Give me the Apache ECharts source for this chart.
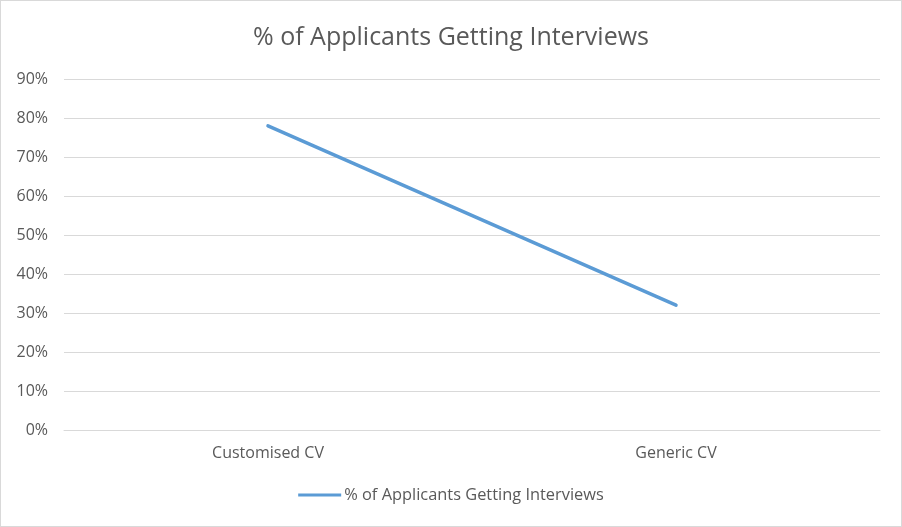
<!DOCTYPE html>
<html><head><meta charset="utf-8">
<script src="https://cdn.jsdelivr.net/npm/echarts@6/dist/echarts.min.js"></script>
<style>html,body{margin:0;padding:0;background:#fff}#c{width:902px;height:527px;box-sizing:border-box;border:1px solid #d9d9d9}</style>
</head><body><div id="c"></div>
<script>
var categories = ['Customised CV', 'Generic CV'];
var values = [0.78, 0.32];
var seriesName = '% of Applicants Getting Interviews';
var chart = echarts.init(document.getElementById('c'));
chart.setOption({
  animation: false,
  textStyle: {fontFamily: 'Open Sans'},
  title: {text: seriesName, left: 'center', top: 19,
    textStyle: {fontFamily: 'Open Sans', fontSize: 25, fontWeight: 'normal', color: '#595959'}},
  legend: {bottom: 18, left: 'center', itemWidth: 43, itemHeight: 3, itemGap: 4,
    icon: 'rect',
    textStyle: {fontFamily: 'Open Sans', fontSize: 16.4, color: '#595959', padding: [0,0,0,-2]},
    data: [{name: seriesName}]},
  grid: {left: 63, right: 21, top: 78, bottom: 96, containLabel: false},
  xAxis: {type: 'category', data: categories, boundaryGap: true,
    axisLine: {show: true, lineStyle: {color: '#d9d9d9'}},
    axisTick: {show: false},
    axisLabel: {fontFamily: 'Open Sans', fontSize: 16, color: '#595959', margin: 15}},
  yAxis: {type: 'value', min: 0, max: 0.9, interval: 0.1,
    axisLine: {show: false}, axisTick: {show: false},
    splitLine: {lineStyle: {color: '#d9d9d9'}},
    axisLabel: {fontFamily: 'Open Sans', fontSize: 16, color: '#595959', margin: 16,
      formatter: function(v){return Math.round(v*100)+'%';}}},
  series: [{name: seriesName, type: 'line', data: values, symbol: 'none',
    lineStyle: {color: '#5b9bd5', width: 3.5, cap: 'round'}, itemStyle: {color: '#5b9bd5'}}]
});
</script></body></html>
